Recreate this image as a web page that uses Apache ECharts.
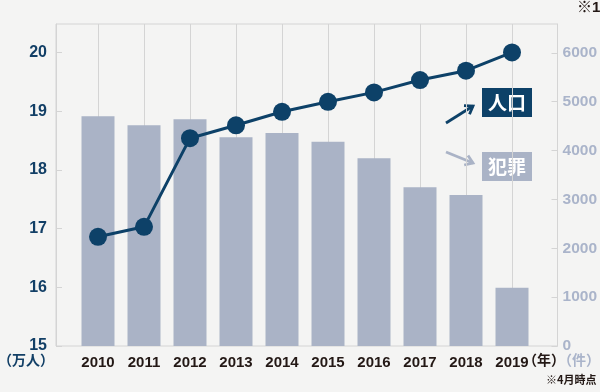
<!DOCTYPE html>
<html><head><meta charset="utf-8">
<script src="https://cdn.jsdelivr.net/npm/echarts@6/dist/echarts.min.js"></script>
<style>html,body{margin:0;padding:0;background:#f4f4f3}#c{width:600px;height:392px}</style>
</head><body><div id="c"></div>
<script>
// Data
const years = ['2010','2011','2012','2013','2014','2015','2016','2017','2018','2019'];
const population = [16.86, 17.03, 18.54, 18.76, 18.99, 19.16, 19.32, 19.53, 19.69, 20.0]; // 万人
const crimes = [4700, 4520, 4640, 4270, 4360, 4180, 3840, 3250, 3090, 1190]; // 件
const popRange = [15, 20.485];
const popInterval = 1;
const crimeRange = [0, 6590];
const crimeInterval = 1000;

const NAVY = '#0d4168';
const BAR = '#aab3c6';
const GRID = '#d4d4d4';
const DARK = '#231815';
const LIGHT = '#aab4ca';
const FONT = '"Liberation Sans", "Noto Sans CJK JP", sans-serif';
const CJK = '"Noto Sans CJK JP", sans-serif';

const chart = echarts.init(document.getElementById('c'), null, {renderer: 'canvas'});

function intLabel(step) {
  return function (v) { return (Math.abs(v / step - Math.round(v / step)) < 1e-6) ? String(v) : ''; };
}

const option = {
  animation: false,
  backgroundColor: '#f4f4f3',
  textStyle: {fontFamily: FONT},
  grid: [
    {left: 56, right: 42, top: 24, bottom: 46, show: true, borderColor: GRID, borderWidth: 1, backgroundColor: 'transparent'},
    {left: 98, right: 88, top: 24, bottom: 46}
  ],
  xAxis: [
    {gridIndex: 0, type: 'value', min: 0, max: 1, show: false},
    {gridIndex: 1, type: 'category', data: years, boundaryGap: false,
      axisLine: {show: false}, axisTick: {show: false},
      splitLine: {show: true, interval: 0, lineStyle: {color: GRID, width: 1}},
      axisLabel: {interval: 0, margin: 9, color: DARK, fontSize: 15, fontWeight: 'bold', fontFamily: FONT}}
  ],
  yAxis: [
    {gridIndex: 0, type: 'value', position: 'left', min: popRange[0], max: popRange[1], interval: popInterval,
      axisLine: {show: true, lineStyle: {color: GRID}},
      axisTick: {show: true, inside: true, length: 6, lineStyle: {color: GRID}},
      splitLine: {show: false},
      axisLabel: {margin: 9, color: '#123f66', fontSize: 16, fontWeight: 'bold', fontFamily: FONT, showMaxLabel: false, formatter: intLabel(popInterval)}},
    {gridIndex: 0, type: 'value', position: 'right', min: crimeRange[0], max: crimeRange[1], interval: crimeInterval,
      axisLine: {show: true, lineStyle: {color: GRID}},
      axisTick: {show: true, inside: true, length: 6, lineStyle: {color: GRID}},
      splitLine: {show: false},
      axisLabel: {margin: 5, color: LIGHT, fontSize: 15.5, fontWeight: 'bold', fontFamily: FONT, showMaxLabel: false, formatter: intLabel(crimeInterval)}},
    {gridIndex: 1, type: 'value', min: popRange[0], max: popRange[1], show: false, splitLine: {show: false}},
    {gridIndex: 1, type: 'value', min: crimeRange[0], max: crimeRange[1], show: false, splitLine: {show: false}}
  ],
  series: [
    {name: '犯罪', type: 'bar', xAxisIndex: 1, yAxisIndex: 3, data: crimes, barWidth: 33,
      itemStyle: {color: BAR}, clip: false, z: 2},
    {name: '人口', type: 'line', xAxisIndex: 1, yAxisIndex: 2, data: population,
      symbol: 'circle', symbolSize: 18, lineStyle: {color: NAVY, width: 3},
      itemStyle: {color: NAVY}, clip: false, z: 3}
  ],
  graphic: [
    {type: 'text', x: -2, y: 353, style: {text: '（万人）', fill: '#123f66', font: 'bold 14px ' + CJK}},
    {type: 'text', x: 523, y: 353, style: {text: '（年）', fill: DARK, font: 'bold 14px ' + CJK}},
    {type: 'text', x: 558, y: 353, style: {text: '（件）', fill: LIGHT, font: 'bold 14px ' + CJK}},
    {type: 'text', x: 546, y: 374, style: {text: '※4月時点', fill: DARK, font: 'bold 11px ' + CJK}},
    {type: 'text', x: 577, y: 0, style: {text: '※1', fill: DARK, font: 'bold 15px ' + FONT}},
    // legend labels
    {type: 'rect', shape: {x: 482, y: 88, width: 50, height: 29}, style: {fill: NAVY}},
    {type: 'text', x: 507, y: 102.5, style: {text: '人口', fill: '#fff', font: 'bold 19px ' + CJK, align: 'center', verticalAlign: 'middle'}},
    {type: 'rect', shape: {x: 482, y: 152, width: 50, height: 29}, style: {fill: BAR}},
    {type: 'text', x: 507, y: 166.5, style: {text: '犯罪', fill: '#fff', font: 'bold 19px ' + CJK, align: 'center', verticalAlign: 'middle'}},
    // arrows
    {type: 'polyline', shape: {points: [[446, 123], [473, 106]]}, style: {stroke: NAVY, lineWidth: 2.8, fill: null}},
    {type: 'polyline', shape: {points: [[464, 105.6], [473, 106], [469.5, 114.3]]}, style: {stroke: NAVY, lineWidth: 2.8, fill: null}},
    {type: 'polyline', shape: {points: [[446, 152], [473, 163]]}, style: {stroke: BAR, lineWidth: 2.8, fill: null}},
    {type: 'polyline', shape: {points: [[468, 155.4], [473, 163], [464.2, 165]]}, style: {stroke: BAR, lineWidth: 2.8, fill: null}}
  ]
};
chart.setOption(option);
</script>
</body></html>
